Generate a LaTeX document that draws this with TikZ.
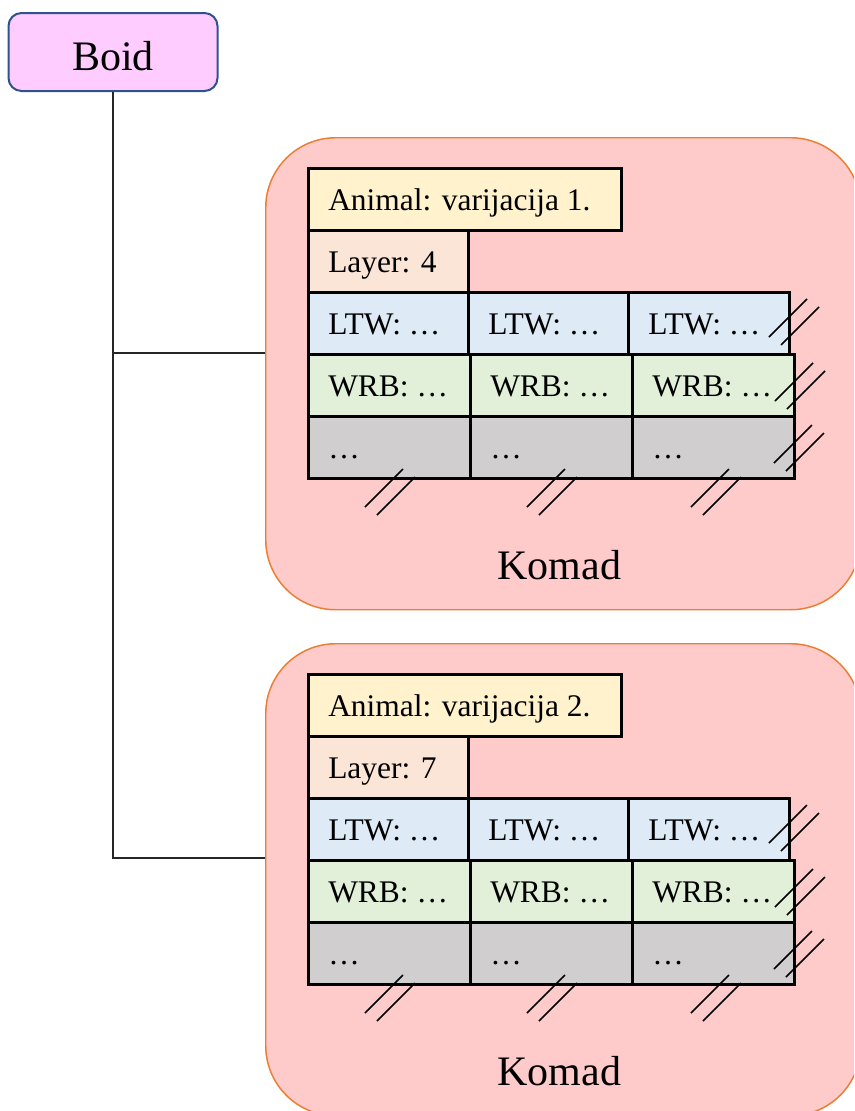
\documentclass[tikz,border=0pt]{standalone}
\usepackage{fontspec}
\setmainfont{Liberation Serif}
\newcommand\pxu{0.75pt}
\definecolor{boidfill}{HTML}{FFCCFF}
\definecolor{boidline}{HTML}{2F528F}
\definecolor{komadfill}{HTML}{FFCACA}
\definecolor{komadline}{HTML}{ED7D31}
\definecolor{animalfill}{HTML}{FFF2CC}
\definecolor{layerfill}{HTML}{FBE5D6}
\definecolor{ltwfill}{HTML}{DEEBF7}
\definecolor{wrbfill}{HTML}{E2F0D9}
\definecolor{restfill}{HTML}{D0CECE}
\tikzset{
  boidbox/.style={draw=boidline, fill=boidfill, line width=1.5pt, rounded corners=13*\pxu,
    minimum width=209*\pxu, minimum height=78*\pxu, inner sep=0pt,
    font=\fontsize{31.5}{36}\selectfont, text height=27pt, text depth=0pt},
  komadbox/.style={draw=komadline, fill=komadfill, line width=1.1pt, rounded corners=70*\pxu,
    minimum width=595*\pxu, minimum height=472*\pxu, anchor=north west, inner sep=0pt},
  komadlabel/.style={anchor=base, inner sep=0pt, font=\fontsize{31.5}{36}\selectfont},
  cellbox/.style={draw=black, line width=2pt, rectangle, anchor=north west,
    minimum height=62*\pxu, inner sep=0pt},
  celltext/.style={anchor=base west, inner sep=0pt, font=\fontsize{23.6}{28}\selectfont},
  hashline/.style={draw=black, line width=1.1pt},
  link/.style={draw=black!85, line width=1pt},
}
% one table cell: name, left, top, width, fill, text
\newcommand\tablecell[6]{%
  \node[cellbox, fill=#5, minimum width=#4*\pxu] (#1) at (#2,#3) {};
  \node[celltext] (#1-t) at ([xshift=21*\pxu,yshift=-11*\pxu]#1.west) {#6};}
% pair of slanted continuation strokes centred at (x,y)
\newcommand\hashpair[2]{%
  \draw[hashline] (#1-19,#2+19) -- (#1+19,#2-19);
  \draw[hashline] (#1-7,#2+27) -- (#1+31,#2-11);}
% one rounded group with its table: prefix, variant, layer
\newcommand\komadgroup[3]{%
  \node[komadbox] (#1) at (265,137) {};
  \node[komadlabel] (#1-label) at ([xshift=-4*\pxu,yshift=31*\pxu]#1.south) {Komad};
  \tablecell{#1-animal}{307}{167}{313}{animalfill}{Animal: varijacija #2.}
  \tablecell{#1-layer}{307}{229}{160}{layerfill}{Layer: #3}
  \tablecell{#1-ltw1}{307}{291}{160}{ltwfill}{LTW: …}
  \tablecell{#1-ltw2}{467}{291}{160}{ltwfill}{LTW: …}
  \tablecell{#1-ltw3}{627}{291}{161}{ltwfill}{LTW: …}
  \tablecell{#1-wrb1}{307}{353}{162}{wrbfill}{WRB: …}
  \tablecell{#1-wrb2}{469}{353}{162}{wrbfill}{WRB: …}
  \tablecell{#1-wrb3}{631}{353}{162}{wrbfill}{WRB: …}
  \tablecell{#1-rest1}{307}{415}{162}{restfill}{…}
  \tablecell{#1-rest2}{469}{415}{162}{restfill}{…}
  \tablecell{#1-rest3}{631}{415}{162}{restfill}{…}
  \hashpair{788}{318}
  \hashpair{794}{382}
  \hashpair{793}{444}
  \hashpair{384}{488}
  \hashpair{546}{488}
  \hashpair{710}{488}}
\begin{document}
\begin{tikzpicture}[x=0.75pt, y=-0.75pt]
  \clip (0,0) rectangle (854,1111);
  \fill[white] (0,0) rectangle (854,1111);

  \node[boidbox] (boid) at (113,52) {Boid};

  \komadgroup{k1}{1}{4}
  \begin{scope}[shift={(0,506)}]
    \komadgroup{k2}{2}{7}
  \end{scope}

  % tree connectors from Boid to each group
  \coordinate (j1) at (113,353);
  \coordinate (j2) at (113,858);
  \draw[link] (boid.south) -- (j2) -- (j2 -| k2.west);
  \draw[link] (j1) -- (j1 -| k1.west);
\end{tikzpicture}
\end{document}
